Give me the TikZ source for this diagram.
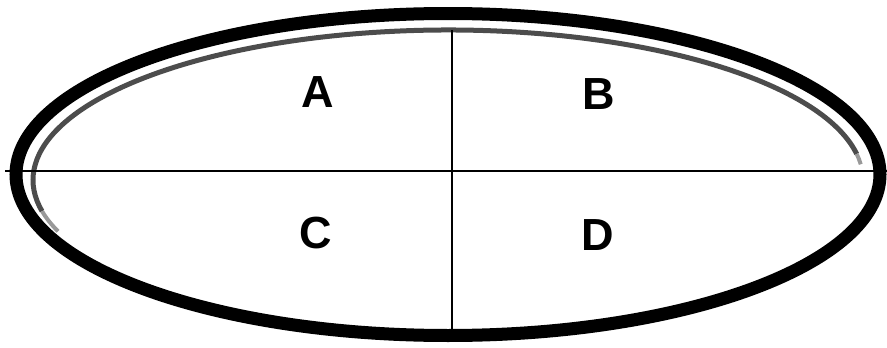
\documentclass[tikz,border=0pt]{standalone}
\usepackage{fontspec}
\setmainfont{Liberation Sans}
\begin{document}
\begin{tikzpicture}[x=1pt,y=-1pt,
  lbl/.style={font=\fontsize{45}{45}\selectfont\bfseries, inner sep=0pt, anchor=base},
  outerring/.style={line width=13pt, black},
  innerring/.style={line width=5pt, black!70},
  innerfade/.style={line width=4pt, black!40},
  divider/.style={black, line width=1.6pt}]
\useasboundingbox (0,0) rectangle (887,348);
% inner gray ring (partial)
\coordinate (ic) at (448,180);
\draw[innerring] (ic) ++(-10:415 and 150) arc[start angle=-10, end angle=-192, x radius=415, y radius=150];
\draw[innerfade] (ic) ++(-6:415 and 150) arc[start angle=-6, end angle=-10, x radius=415, y radius=150];
\draw[innerfade] (ic) ++(-192:415 and 150) arc[start angle=-192, end angle=-200, x radius=415, y radius=150];
% outer ring
\draw[outerring] (448,174.5) ellipse[x radius=432, y radius=161];
% dividers
\coordinate (hl) at (5,171);
\coordinate (hr) at (887,171);
\coordinate (vt) at (452,30);
\coordinate (vb) at (452,332);
\draw[divider, line width=2pt] (hl) -- (hr);
\draw[divider, line width=1.4pt] (vt) -- (vb);
% labels
\node[lbl] (A) at (318,107) {A};
\node[lbl] (B) at (599,109) {B};
\node[lbl] (C) at (316,248) {C};
\node[lbl] (D) at (598,250) {D};
\end{tikzpicture}
\end{document}
